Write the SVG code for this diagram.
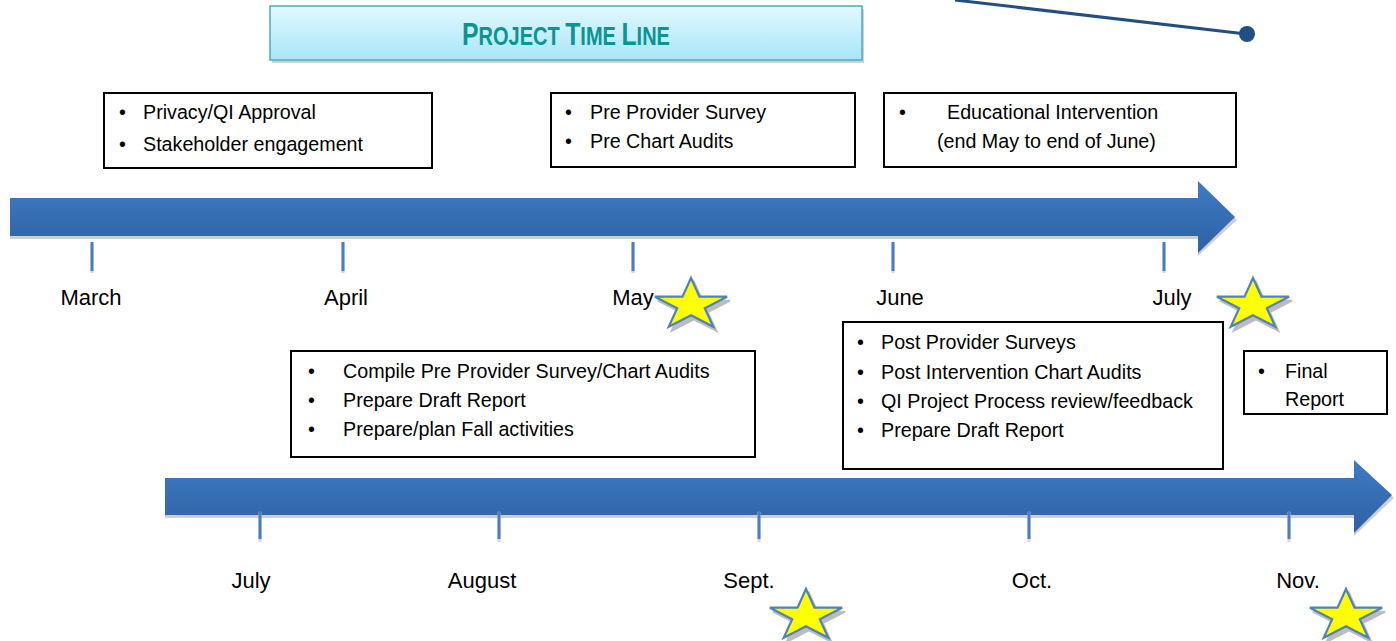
<svg xmlns="http://www.w3.org/2000/svg" width="1396" height="641" viewBox="0 0 1396 641">
<defs>
<linearGradient id="arrowGrad" x1="0" y1="0" x2="0" y2="1">
<stop offset="0" stop-color="#3e7cc5"/>
<stop offset="1" stop-color="#2f60a2"/>
</linearGradient>
<linearGradient id="titleGrad" x1="0" y1="0" x2="0" y2="1">
<stop offset="0" stop-color="#e2f8fe"/>
<stop offset="1" stop-color="#a8e6fa"/>
</linearGradient>
<path id="star" d="M0,-27 L8.5,-8.3 L36.1,-8.3 L13.8,3.2 L22.3,21.8 L0,10.3 L-22.3,21.8 L-13.8,3.2 L-36.1,-8.3 L-8.5,-8.3 Z"/>
</defs>
<style>
.box{fill:#fff;stroke:#000;stroke-width:2}
.t{font-family:"Liberation Sans",Arial,sans-serif;font-size:19.7px;fill:#000}
.m{font-family:"Liberation Sans",Arial,sans-serif;font-size:22px;fill:#000;text-anchor:middle}
.tick{fill:#4a7ec0}
.tickS{fill:#d6d6d6}
.shadow{fill:#cfcfcf}
.starS{fill:#bdbdbd;stroke:#bdbdbd;stroke-width:2}
.starF{fill:#ffff00;stroke:#4f81bd;stroke-width:2.2;stroke-linejoin:miter}
</style>
<rect width="1396" height="641" fill="#fff"/>

<g id="title">
<rect x="272" y="9" width="592" height="54" fill="#d0d0d0"/>
<rect x="270" y="6" width="592" height="54" fill="url(#titleGrad)" stroke="#4bacc6" stroke-width="1.5"/>
<text transform="translate(566,45) scale(0.8,1)" text-anchor="middle" font-family="'Liberation Sans',Arial,sans-serif" font-weight="bold" fill="#0a9592"><tspan font-size="31">P</tspan><tspan font-size="25">ROJECT </tspan><tspan font-size="31">T</tspan><tspan font-size="25">IME </tspan><tspan font-size="31">L</tspan><tspan font-size="25">INE</tspan></text>
</g>

<g id="connectors">
<line x1="955" y1="0" x2="1246" y2="34" stroke="#234e82" stroke-width="3"/>
<circle cx="1247" cy="34" r="8" fill="#234e82"/>
</g>

<g id="arrow-top">
<path class="shadow" d="M10,201 L1198,201 L1198,184 L1237,220 L1198,256 L1198,239 L10,239 Z"/>
<path fill="url(#arrowGrad)" d="M10,198 L1198,198 L1198,181 L1235,217 L1198,253 L1198,236 L10,236 Z"/>
<rect class="tickS" x="90.5" y="243" width="3" height="30"/>
<rect class="tick" x="90.5" y="242" width="3" height="29"/>
<rect class="tickS" x="341.5" y="243" width="3" height="30"/>
<rect class="tick" x="341.5" y="242" width="3" height="29"/>
<rect class="tickS" x="631.5" y="243" width="3" height="30"/>
<rect class="tick" x="631.5" y="242" width="3" height="29"/>
<rect class="tickS" x="891.5" y="243" width="3" height="30"/>
<rect class="tick" x="891.5" y="242" width="3" height="29"/>
<rect class="tickS" x="1162.5" y="243" width="3" height="30"/>
<rect class="tick" x="1162.5" y="242" width="3" height="29"/>
<text class="m" x="91" y="305">March</text>
<text class="m" x="346" y="305">April</text>
<text class="m" x="633" y="305">May</text>
<text class="m" x="900" y="305">June</text>
<text class="m" x="1172" y="305">July</text>
</g>

<g id="arrow-bottom">
<path class="shadow" d="M165,481 L1354,481 L1354,463 L1394,498 L1354,536 L1354,518 L165,518 Z"/>
<path fill="url(#arrowGrad)" d="M165,478 L1354,478 L1354,460 L1392,495 L1354,533 L1354,515 L165,515 Z"/>
<rect class="tickS" x="258.5" y="512" width="3" height="30"/>
<rect class="tick" x="258.5" y="511" width="3" height="28"/>
<rect class="tickS" x="497.5" y="512" width="3" height="30"/>
<rect class="tick" x="497.5" y="511" width="3" height="28"/>
<rect class="tickS" x="757.5" y="512" width="3" height="30"/>
<rect class="tick" x="757.5" y="511" width="3" height="28"/>
<rect class="tickS" x="1027.5" y="512" width="3" height="30"/>
<rect class="tick" x="1027.5" y="511" width="3" height="28"/>
<rect class="tickS" x="1287.5" y="512" width="3" height="30"/>
<rect class="tick" x="1287.5" y="511" width="3" height="28"/>
<text class="m" x="251" y="588">July</text>
<text class="m" x="482" y="588">August</text>
<text class="m" x="749" y="588">Sept.</text>
<text class="m" x="1032" y="588">Oct.</text>
<text class="m" x="1298" y="588">Nov.</text>
</g>

<g id="box-privacy">
<rect class="box" x="104" y="93" width="328" height="75"/>
<text class="t" y="119"><tspan x="119">•</tspan><tspan x="143">Privacy/QI Approval</tspan></text>
<text class="t" y="151"><tspan x="119">•</tspan><tspan x="143">Stakeholder engagement</tspan></text>
</g>

<g id="box-pre-survey">
<rect class="box" x="551" y="93" width="304" height="74"/>
<text class="t" y="119"><tspan x="565">•</tspan><tspan x="590">Pre Provider Survey</tspan></text>
<text class="t" y="148"><tspan x="565">•</tspan><tspan x="590">Pre Chart Audits</tspan></text>
</g>

<g id="box-education">
<rect class="box" x="884" y="93" width="352" height="74"/>
<text class="t" y="119"><tspan x="899">•</tspan><tspan x="947">Educational Intervention</tspan></text>
<text class="t" y="148" x="937">(end May to end of June)</text>
</g>

<g id="box-compile">
<rect class="box" x="291" y="351" width="464" height="106"/>
<text class="t" y="378"><tspan x="308">•</tspan><tspan x="343">Compile Pre Provider Survey/Chart Audits</tspan></text>
<text class="t" y="407"><tspan x="308">•</tspan><tspan x="343">Prepare Draft Report</tspan></text>
<text class="t" y="436"><tspan x="308">•</tspan><tspan x="343">Prepare/plan Fall activities</tspan></text>
</g>

<g id="box-post">
<rect class="box" x="843" y="322" width="380" height="147"/>
<text class="t" y="349"><tspan x="857">•</tspan><tspan x="881">Post Provider Surveys</tspan></text>
<text class="t" y="379"><tspan x="857">•</tspan><tspan x="881">Post Intervention Chart Audits</tspan></text>
<text class="t" y="408"><tspan x="857">•</tspan><tspan x="881">QI Project Process review/feedback</tspan></text>
<text class="t" y="437"><tspan x="857">•</tspan><tspan x="881">Prepare Draft Report</tspan></text>
</g>

<g id="box-final">
<rect class="box" x="1244" y="351" width="143" height="63"/>
<text class="t" y="378"><tspan x="1258">•</tspan><tspan x="1285">Final</tspan></text>
<text class="t" y="406" x="1285">Report</text>
</g>

<g id="star-may">
<use href="#star" class="starS" transform="translate(694,309)"/>
<use href="#star" class="starF" transform="translate(691,305)"/>
</g>
<g id="star-july">
<use href="#star" class="starS" transform="translate(1256,309)"/>
<use href="#star" class="starF" transform="translate(1253,305)"/>
</g>
<g id="star-sept">
<use href="#star" class="starS" transform="translate(809,620)"/>
<use href="#star" class="starF" transform="translate(806,616)"/>
</g>
<g id="star-nov">
<use href="#star" class="starS" transform="translate(1349,620)"/>
<use href="#star" class="starF" transform="translate(1346,616)"/>
</g>
</svg>
